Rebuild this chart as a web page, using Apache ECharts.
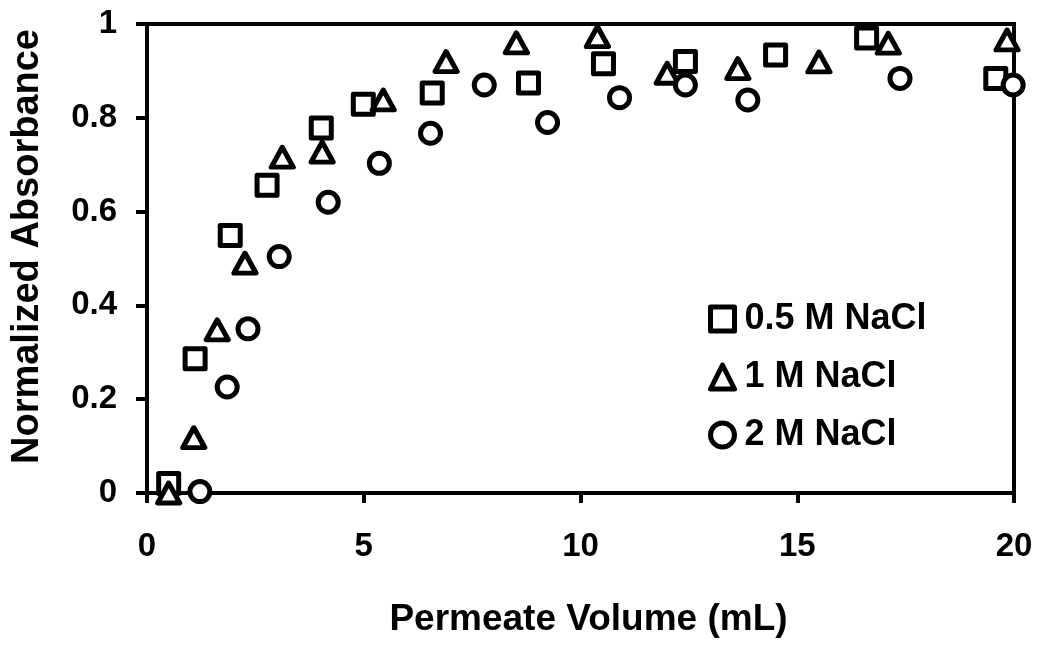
<!DOCTYPE html>
<html>
<head>
<meta charset="utf-8">
<script src="https://cdn.jsdelivr.net/npm/echarts@6/dist/echarts.min.js"></script>
<style>
    html, body { margin: 0; padding: 0; background: #fff; }
    #absorbance_chart { width: 1050px; height: 658px; }
</style>
</head>
<body>
<div id="absorbance_chart"></div>
<script>
const seriesNames = ["0.5 M NaCl", "1 M NaCl", "2 M NaCl"];
const seriesSymbols = ["rect", "triangle", "circle"];

// permeate volume (mL) / normalized absorbance
const volHalf = [0.5, 1.11, 1.92, 2.77, 4.02, 4.99, 6.58, 8.8, 10.53, 12.42, 14.5, 16.6, 19.58];
const absHalf = [0.02, 0.286, 0.549, 0.656, 0.778, 0.829, 0.853, 0.874, 0.915, 0.92, 0.934, 0.97, 0.884];

const volOne = [0.5, 1.08, 1.62, 2.26, 3.12, 4.04, 5.45, 6.9, 8.52, 10.39, 12.0, 13.63, 15.5, 17.1, 19.84];
const absOne = [0.0, 0.118, 0.348, 0.49, 0.716, 0.727, 0.838, 0.92, 0.96, 0.973, 0.895, 0.905, 0.919, 0.959, 0.966];

const volTwo = [1.22, 1.85, 2.33, 3.05, 4.18, 5.36, 6.54, 7.78, 9.24, 10.9, 12.42, 13.86, 17.37, 19.98];
const absTwo = [0.003, 0.226, 0.35, 0.504, 0.62, 0.703, 0.767, 0.87, 0.79, 0.843, 0.87, 0.838, 0.884, 0.87];

const xTicks = [0, 5, 10, 15, 20];
const yTicks = [0, 0.2, 0.4, 0.6, 0.8, 1];

const FONT = "'Liberation Sans', Arial, sans-serif";

const zip = (xs, ys) => xs.map((x, i) => [x, ys[i]]);
const pointSets = [zip(volHalf, absHalf), zip(volOne, absOne), zip(volTwo, absTwo)];

const series = seriesNames.map((name, i) => ({
    name,
    type: "scatter",
    symbol: seriesSymbols[i],
    symbolSize: i === 1 ? [22, 20] : 20,
    clip: false,
    data: pointSets[i],
    itemStyle: {
        color: "#fff",
        borderColor: "#000",
        borderWidth: 5,
        borderJoin: "round",
        opacity: 1
    },
    emphasis: { disabled: true }
}));

const chart = echarts.init(document.getElementById("absorbance_chart"));

chart.setOption({
    backgroundColor: "#fff",
    animation: false,
    textStyle: { fontFamily: FONT },
    grid: {
        left: 147,
        right: 36,
        top: 24,
        bottom: 165,
        show: true,
        borderColor: "#000",
        borderWidth: 4,
        backgroundColor: "transparent"
    },
    legend: {
        orient: "vertical",
        left: 708,
        top: 301,
        padding: 0,
        itemWidth: 24,
        itemHeight: 24,
        itemGap: 22,
        data: seriesNames.map((name, i) => ({ name, icon: seriesSymbols[i] })),
        itemStyle: { color: "#fff", borderColor: "#000", borderWidth: 5 },
        textStyle: {
            fontFamily: FONT,
            fontWeight: "bold",
            fontSize: 36,
            color: "#000",
            lineHeight: 35,
            padding: [0, 0, 0, 5]
        }
    },
    xAxis: {
        type: "value",
        min: xTicks[0],
        max: xTicks[xTicks.length - 1],
        interval: 5,
        name: "Permeate Volume (mL)",
        nameLocation: "middle",
        nameGap: 108,
        nameTextStyle: {
            fontFamily: FONT, fontWeight: "bold", fontSize: 37, color: "#000",
            padding: [0, 0, 0, 16]
        },
        axisLine: { onZero: false, lineStyle: { color: "#000", width: 4 } },
        axisTick: { show: true, inside: false, length: 10, lineStyle: { color: "#000", width: 4 } },
        axisLabel: { margin: 37, fontFamily: FONT, fontWeight: "bold", fontSize: 33, color: "#000" },
        splitLine: { show: false }
    },
    yAxis: {
        type: "value",
        min: yTicks[0],
        max: yTicks[yTicks.length - 1],
        interval: 0.2,
        name: "Normalized Absorbance",
        nameLocation: "middle",
        nameGap: 100,
        nameTextStyle: {
            fontFamily: FONT, fontWeight: "bold", fontSize: 38, color: "#000",
            padding: [0, 0, 0, 24]
        },
        axisLine: { onZero: false, lineStyle: { color: "#000", width: 4 } },
        axisTick: { show: true, inside: false, length: 11, lineStyle: { color: "#000", width: 4 } },
        axisLabel: { margin: 30, fontFamily: FONT, fontWeight: "bold", fontSize: 33, color: "#000" },
        splitLine: { show: false }
    },
    series
});
</script>
</body>
</html>
